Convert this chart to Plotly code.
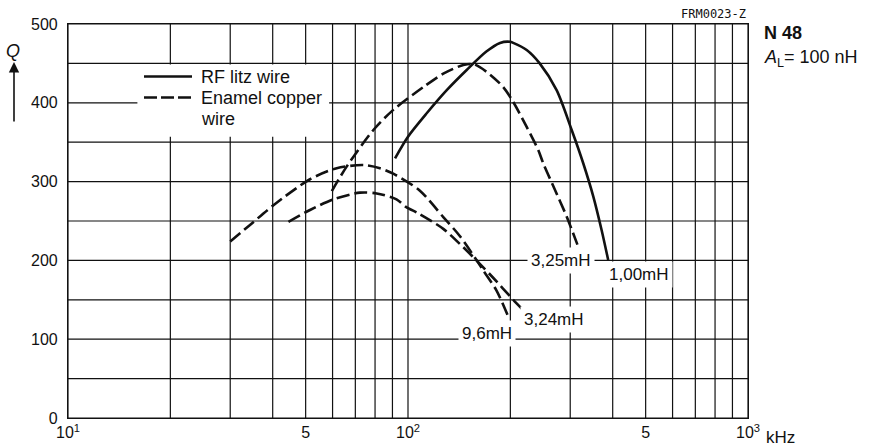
import numpy as np
import plotly.graph_objects as go

# Quality factor Q versus frequency (kHz) for N 48 pot cores, A_L = 100 nH
# Enamel copper wire, 9.6 mH (dashed)
f_96 = [30, 34.3, 40.2, 51.5, 61.7, 73.9, 82.7, 90.5, 108, 127, 142, 159, 166, 182, 197]
q_96 = [224, 245, 270, 303, 317, 321, 317, 310, 289, 255, 231, 200.5, 188, 162, 129]

# Enamel copper wire, 3.24 mH (dashed)
f_324 = [44.5, 51.5, 60.3, 72.2, 80.9, 92.5, 98.6, 108, 127, 142, 159, 178, 204, 217]
q_324 = [249, 264, 277.5, 286, 285, 277.5, 268, 259, 240, 221, 200, 178, 150, 138]

# Enamel copper wire, 3.25 mH (dashed)
f_325 = [59.7, 66, 79.1, 90.5, 111, 127, 145.5, 156, 170, 190.6, 204, 223, 241.6, 250, 268, 293, 315]
q_325 = [288, 319, 365.5, 391, 420, 437, 448, 449, 439.5, 420, 401, 370, 340, 323, 293.5, 255.5, 220]

# RF litz wire, 1.00 mH (solid)
f_100 = [91.6, 100, 113.5, 130, 148.8, 170, 186.5, 199.5, 204, 223.4, 244, 273.6, 303, 327.8, 350.8, 371, 388]
q_100 = [329.6, 357, 386.7, 416, 441.6, 465, 476, 477.5, 476, 467, 450, 416, 365.5, 323, 281, 238.6, 200.5]

# Axis labels
x_tickvals = [10, 50, 100, 500, 1000]
x_ticktext = ["10<sup>1</sup>", "5", "10<sup>2</sup>", "5", "10<sup>3</sup>"]
y_tickvals = [0, 100, 200, 300, 400, 500]

# Curve labels: (text, frequency, Q)
curve_labels = [
    ("3,25mH", 281.8, 200),
    ("9,6mH", 170.6, 107.5),
    ("3,24mH", 268.5, 124.4),
    ("1,00mH", 478.6, 181.5),
]

SANS = "Liberation Sans, Arial, sans-serif"
INK = "#111111"

# plot-area geometry in pixels (used to place paper-referenced items)
L, R, T, B = 68, 748, 24, 418


def px(xp):
    return (xp - L) / (R - L)


def py(yp):
    return (B - yp) / (B - T)


fig = go.Figure()

# grid: every 1..9 multiple of each decade, and every 50 in Q
grid_f = [m * 10 ** d for d in (1, 2) for m in range(1, 10)] + [1000]
gx, gy = [], []
for f in grid_f:
    gx += [f, f, None]
    gy += [0, 500, None]
for q in range(0, 501, 50):
    gx += [10, 1000, None]
    gy += [q, q, None]
fig.add_trace(go.Scatter(x=gx, y=gy, mode="lines", line=dict(color=INK, width=1.2),
                         hoverinfo="skip", showlegend=False))

# white panel behind the key
fig.add_trace(go.Scatter(x=[16.0, 58.6, 58.6, 16.0, 16.0], y=[357, 357, 448.6, 448.6, 357],
                         mode="lines", fill="toself", fillcolor="white",
                         line=dict(width=0, color="white"), hoverinfo="skip", showlegend=False))

dash = "13px,5px"
for f, q, d in [(f_96, q_96, dash), (f_324, q_324, dash), (f_325, q_325, dash), (f_100, q_100, "solid")]:
    fig.add_trace(go.Scatter(x=f, y=q, mode="lines",
                             line=dict(color=INK, width=2.6, dash=d, shape="spline", smoothing=0.8),
                             showlegend=False))

annotations = []
for text, f, q in curve_labels:
    annotations.append(dict(x=np.log10(f), y=q, xref="x", yref="y", text=text, showarrow=False,
                            font=dict(family=SANS, size=17, color=INK), bgcolor="white",
                            borderpad=3, xanchor="center", yanchor="middle"))

# key
annotations += [
    dict(x=px(199), y=py(77), xref="paper", yref="paper", text="RF litz wire", showarrow=False,
         xanchor="left", yanchor="middle", font=dict(family=SANS, size=18, color=INK)),
    dict(x=px(199), y=py(98), xref="paper", yref="paper", text="Enamel copper", showarrow=False,
         xanchor="left", yanchor="middle", font=dict(family=SANS, size=18, color=INK)),
    dict(x=px(199), y=py(119), xref="paper", yref="paper", text="wire", showarrow=False,
         xanchor="left", yanchor="middle", font=dict(family=SANS, size=18, color=INK)),
]

# axis titles and side notes
annotations += [
    dict(x=px(13), y=py(51), xref="paper", yref="paper", text="<i>Q</i>", showarrow=False,
         xanchor="center", yanchor="middle", font=dict(family=SANS, size=18, color=INK)),
    dict(x=px(14), y=py(62), xref="paper", yref="paper", text="", showarrow=True,
         ax=0, ay=61, arrowhead=2, arrowsize=1.3, arrowwidth=1.6, arrowcolor=INK),
    dict(x=px(780), y=py(437), xref="paper", yref="paper", text="kHz", showarrow=False,
         xanchor="center", yanchor="middle", font=dict(family=SANS, size=17, color=INK)),
    dict(x=px(748), y=py(14), xref="paper", yref="paper", text="FRM0023-Z", showarrow=False,
         xanchor="right", yanchor="middle", font=dict(family="DejaVu Sans Mono, monospace", size=12, color=INK)),
    dict(x=px(762), y=py(33), xref="paper", yref="paper", text="<b>N 48</b>", showarrow=False,
         xanchor="left", yanchor="middle", font=dict(family=SANS, size=18, color=INK)),
    dict(x=px(762), y=py(59), xref="paper", yref="paper", text="<i>A</i><sub>L</sub>= 100 nH", showarrow=False,
         xanchor="left", yanchor="middle", font=dict(family=SANS, size=18, color=INK)),
]

shapes = [
    dict(type="line", xref="paper", yref="paper", x0=px(144), x1=px(192), y0=py(76.5), y1=py(76.5),
         line=dict(color=INK, width=2.6)),
    dict(type="line", xref="paper", yref="paper", x0=px(144), x1=px(193), y0=py(97.5), y1=py(97.5),
         line=dict(color=INK, width=2.6, dash="13px,4px")),
]

fig.update_layout(
    width=882, height=447, autosize=False,
    margin=dict(l=L, r=882 - R, t=T, b=447 - B),
    paper_bgcolor="white", plot_bgcolor="white",
    annotations=annotations, shapes=shapes,
    showlegend=False,
    xaxis=dict(type="log", range=[1, 3], tickvals=x_tickvals, ticktext=x_ticktext, automargin=False,
               showgrid=False, zeroline=False, showline=True, mirror=True, linecolor=INK, linewidth=1.2,
               ticks="", tickfont=dict(family=SANS, size=16, color=INK)),
    yaxis=dict(range=[0, 500], tickvals=y_tickvals, showgrid=False, zeroline=False, automargin=False,
               showline=True, mirror=True, linecolor=INK, linewidth=1.2,
               ticks="", ticklabelstandoff=6, tickfont=dict(family=SANS, size=16, color=INK)),
)

fig.write_html("out.html")
